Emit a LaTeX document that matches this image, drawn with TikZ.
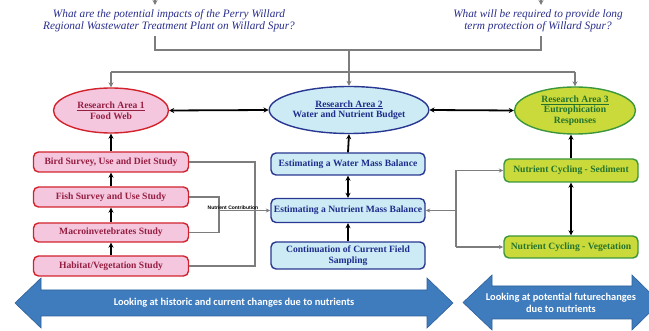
\documentclass[tikz,border=0pt]{standalone}
\usepackage{fontspec}
\setmainfont{Liberation Serif}
\newfontfamily\calfont{Carlito}
\newfontfamily\labelfont{Liberation Sans}
\usetikzlibrary{arrows.meta,shapes.geometric}

\definecolor{pinkF}{RGB}{244,199,223}
\definecolor{redB}{RGB}{210,35,45}
\definecolor{maroonT}{RGB}{150,30,65}
\definecolor{cyanF}{RGB}{205,235,245}
\definecolor{navyB}{RGB}{40,55,145}
\definecolor{navyT}{RGB}{30,45,140}
\definecolor{limeF}{RGB}{202,218,58}
\definecolor{greenB}{RGB}{60,150,60}
\definecolor{greenT}{RGB}{35,115,45}
\definecolor{qblue}{RGB}{40,45,140}
\definecolor{lineG}{RGB}{125,125,125}
\definecolor{bigBlue}{RGB}{62,124,190}
\definecolor{bigBlueB}{RGB}{47,96,155}

\begin{document}
\begin{tikzpicture}[x=1pt,y=-1pt,
  txt/.style={font=\bfseries\fontsize{9.6}{10.5}\selectfont, align=center, inner sep=0pt},
  ellbase/.style={txt, ellipse, line width=1.4pt},
  ellA/.style={ellbase, draw=redB, fill=pinkF, text=maroonT, minimum width=115pt, minimum height=45pt},
  ellB/.style={ellbase, draw=navyB, fill=cyanF, text=navyT, minimum width=149pt, minimum height=47pt},
  ellC/.style={ellbase, draw=greenB, fill=limeF, text=greenT, minimum width=121pt, minimum height=47pt},
  boxbase/.style={txt, rounded corners=5pt, line width=1.4pt},
  pinkbox/.style={boxbase, draw=redB, fill=pinkF, text=maroonT, minimum width=155pt, minimum height=20pt},
  cyanbox/.style={boxbase, draw=navyB, fill=cyanF, text=navyT, minimum width=154pt},
  limebox/.style={boxbase, draw=greenB, fill=limeF, text=greenT, minimum width=134pt, minimum height=23pt},
  qtext/.style={font=\itshape\fontsize{11.3}{11.8}\selectfont, text=qblue, align=center, inner sep=0pt},
  blk/.style={line width=1.8pt, -{Stealth[length=5pt,width=5pt]}},
  blkboth/.style={line width=1.8pt, {Stealth[length=5pt,width=5pt]}-{Stealth[length=5pt,width=5pt]}},
  gry/.style={draw=lineG, line width=1.8pt},
  gryarr/.style={gry, -{Stealth[length=5pt,width=5pt]}},
  gryt/.style={draw=lineG, line width=1.1pt},
  gryarrt/.style={gryt, -{Stealth[length=4.5pt,width=4pt]}},
  bigarrow/.style={fill=bigBlue, draw=bigBlueB, line width=0.6pt},
  bottxt/.style={font=\calfont\bfseries\fontsize{10.4}{12}\selectfont, text=white, align=center, inner sep=0pt}
]
\useasboundingbox (0,0) rectangle (649,331);

% guiding questions
\node[qtext] (q1) at (169,21) {What are the potential impacts of the Perry Willard\\Regional Wastewater Treatment Plant on Willard Spur?};
\node[qtext] (q2) at (538,21) {What will be required to provide long\\term protection of Willard Spur?};
\coordinate (q1top) at (155,-4);
\coordinate (q1in) at (155,5);
\coordinate (q2top) at (541,-4);
\coordinate (q2in) at (541,5);
\draw[gryarr] (q1top) -- (q1in);
\draw[gryarr] (q2top) -- (q2in);

% research areas
\node[ellA] (e1) at (111,110.5) {\underline{Research Area 1}\\Food Web};
\node[ellB] (e2) at (349,110) {\underline{Research Area 2}\\Water and Nutrient Budget};
\node[ellC] (e3) at (575,110.5) {\underline{Research Area 3}\\Eutrophication\\Responses};

% distribution lines from the questions
\coordinate (q1out) at (155,36);
\coordinate (q2out) at (541,36);
\coordinate (q1bend) at (155,50);
\coordinate (q2bend) at (541,50);
\coordinate (trunk) at (349,50);
\coordinate (bar) at (349,72);
\draw[gry] (q1out) -- (q1bend) -- (q2bend) -- (q2out);
\draw[gry] (trunk) -- (bar);
\draw[gry] (e1.north |- bar) -- (e3.north |- bar);
\draw[gryarr] (e1.north |- bar) -- (e1.north);
\draw[gryarr] (bar) -- (e2.north);
\draw[gryarr] (e3.north |- bar) -- (e3.north);

\draw[blkboth] (e1.east) -- (e2.west);
\draw[blkboth] (e2.east) -- (e3.west);

% food web studies
\node[pinkbox] (b1) at (111,162) {Bird Survey, Use and Diet Study};
\node[pinkbox] (b2) at (111,197) {Fish Survey and Use Study};
\node[pinkbox, minimum height=19pt] (b3) at (111,232.5) {Macroinvetebrates Study};
\node[pinkbox] (b4) at (111,266) {Habitat/Vegetation Study};
\draw[blk] (b1.north) -- (e1.south);
\draw[blk] (b2.north) -- (b1.south);
\draw[blk] (b3.north) -- (b2.south);
\draw[blk] (b4.north) -- (b3.south);

% water and nutrient budget
\node[cyanbox, minimum height=22pt] (m1) at (348,164) {Estimating a Water Mass Balance};
\node[cyanbox, minimum height=24pt] (m2) at (348,210.5) {Estimating a Nutrient Mass Balance};
\node[cyanbox, minimum height=27pt] (m3) at (348,255.5) {Continuation of Current Field\\Sampling};
\draw[blk] (m1.north) -- (e2.south);
\draw[blkboth] (m1.south) -- (m2.north);
\draw[blk] (m3.north) -- (m2.south);

% eutrophication responses
\node[limebox] (r1) at (571,170.5) {Nutrient Cycling - Sediment};
\node[limebox, minimum height=22pt] (r2) at (571,247) {Nutrient Cycling - Vegetation};
\draw[blk] (r1.north) -- (r1.north |- e3.south);
\draw[blkboth] (r1.south) -- (r2.north);

% nutrient contribution links
\coordinate (outerx) at (255,0);
\coordinate (innerx) at (219,0);
\draw[gryt] (b1.east) -- (b1.east -| outerx) -- (b4.east -| outerx) -- (b4.east);
\draw[gryt] (b2.east) -- (b2.east -| innerx) -- (b3.east -| innerx) -- (b3.east);
\draw[gryarrt] (m2.west -| innerx) -- (m2.west);
\node[font=\labelfont\bfseries\fontsize{5}{6}\selectfont, inner sep=0pt] (nc) at (233,207.5) {Nutrient Contribution};

\coordinate (rightx) at (456,0);
\draw[gryt] (r1.west -| rightx) -- (r2.west -| rightx);
\draw[gryarrt] (m2.east -| rightx) -- (m2.east);
\draw[gryarrt] (r1.west -| rightx) -- (r1.west);
\draw[gryarrt] (r2.west -| rightx) -- (r2.west);

% time-frame arrows
\draw[bigarrow] (15,303) -- (41,278) -- (41,290) -- (427,290) -- (427,278) -- (453,303)
  -- (427,328) -- (427,316) -- (41,316) -- (41,328) -- cycle;
\node[bottxt] (t1) at (234,303) {Looking at historic and current changes due to nutrients};
\draw[bigarrow] (463,302.5) -- (492,275) -- (492,286) -- (632,286) -- (632,275) -- (660,302.5)
  -- (632,330) -- (632,319) -- (492,319) -- (492,330) -- cycle;
\node[bottxt] (t2) at (561,302.5) {Looking at potential futurechanges\\due to nutrients};
\end{tikzpicture}
\end{document}
